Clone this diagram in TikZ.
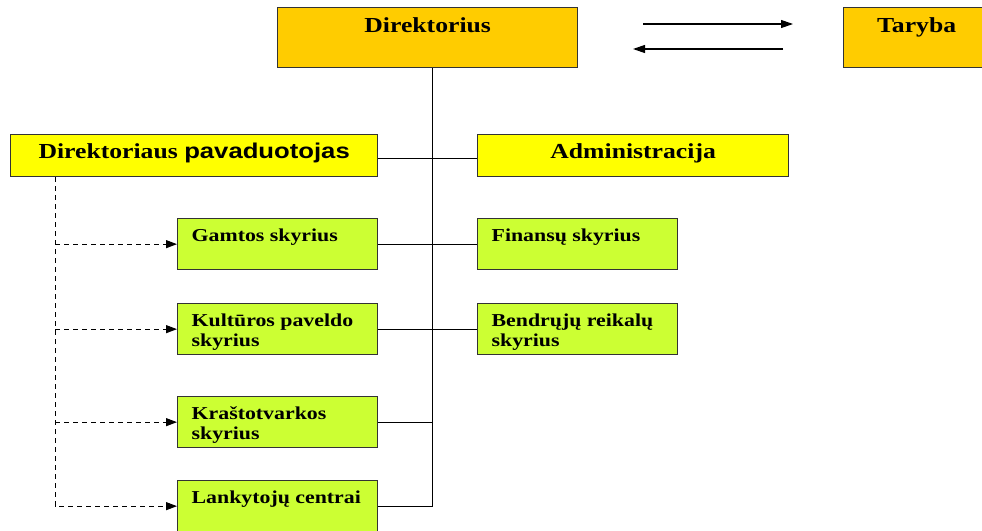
\documentclass[tikz,border=0pt]{standalone}
\usepackage{fontspec}
\setmainfont{Liberation Serif}[FakeStretch=1.2]
\newfontfamily\sansbold{Liberation Sans}[FakeStretch=1.2]
\usepackage{tikz}
\usetikzlibrary{positioning}
\usetikzlibrary{arrows.meta}
\usepackage{xcolor}
\definecolor{direkorange}{HTML}{FFCC00}
\definecolor{vadyellow}{HTML}{FFFF00}
\definecolor{skyrgreen}{HTML}{CCFF33}
\definecolor{boxline}{HTML}{333333}
\newcommand\subtext[1]{\parbox[t][51pt][t]{200pt}{\raggedright\leftskip=14pt\rule{0pt}{22.5pt}#1}}
\tikzset{
  box/.style={draw=boxline, line width=1.3pt, rectangle, inner sep=0pt, anchor=north west},
  topbox/.style={box, fill=direkorange, font=\fontsize{21.4}{24}\selectfont\bfseries, text height=25pt, text depth=35pt},
  midbox/.style={box, fill=vadyellow, font=\fontsize{21.4}{24}\selectfont\bfseries, text height=24pt, text depth=18pt},
  subbox/.style={box, fill=skyrgreen, font=\fontsize{18.2}{20}\selectfont\bfseries},
  link/.style={black, line width=1pt},
  dashlink/.style={black, line width=1pt, dash pattern=on 5pt off 4pt, -{Triangle[length=11pt,width=8pt]}},
  toplink/.style={black, line width=1.2pt, -{Triangle[length=12pt,width=8pt]}}
}

\begin{document}
\begin{tikzpicture}[x=1pt, y=-1pt]
  \useasboundingbox (0,0) rectangle (982,530);
  \clip (0,0) rectangle (982,530);
  % top level
  \node[topbox, minimum width=300pt] (direk) at (277,7) {Direktorius};
  \node[topbox, minimum width=146pt] (taryba) at (843,7) {Taryba};
  \coordinate (ta) at (643,24);
  \coordinate (tb) at (793,24);
  \coordinate (tc) at (783,49);
  \coordinate (td) at (633,49);
  \draw[toplink] (ta) -- (tb);
  \draw[toplink] (tc) -- (td);
  % second level
  \node[midbox, minimum width=367pt] (pavad) at (10,134) {Direktoriaus {\sansbold pavaduotojas}};
  \node[midbox, minimum width=311pt] (admin) at (477,134) {Administracija};
  % departments
  \node[subbox] (gamtos) at (177,218) {\subtext{Gamtos skyrius}};
  \node[subbox] (kultur) at (177,303) {\subtext{Kultūros paveldo\\skyrius}};
  \node[subbox] (krast) at (177,396) {\subtext{Kraštotvarkos\\skyrius}};
  \node[subbox] (lankyt) at (177,480) {\subtext{Lankytojų centrai}};
  \node[subbox] (finans) at (477,218) {\subtext{Finansų skyrius}};
  \node[subbox] (bendr) at (477,303) {\subtext{Bendrųjų reikalų\\skyrius}};
  % solid links
  \coordinate (spine) at ([xshift=5pt]direk.south);
  \draw[link] (spine) -- (spine |- lankyt.east) -- (lankyt.east);
  \draw[link] ([yshift=-3pt]pavad.east) -- ([yshift=-3pt]admin.west);
  \draw[link] (gamtos) -- (finans);
  \draw[link] (kultur) -- (bendr);
  \draw[link] (krast.east) -- (spine |- krast.east);
  % dashed links
  \coordinate (dtop) at ([xshift=45pt]pavad.south west);
  \draw[dashlink] (dtop) |- (lankyt.west);
  \foreach \n in {gamtos,kultur,krast}
    \draw[dashlink] (dtop |- \n.west) -- (\n.west);
\end{tikzpicture}
\end{document}
